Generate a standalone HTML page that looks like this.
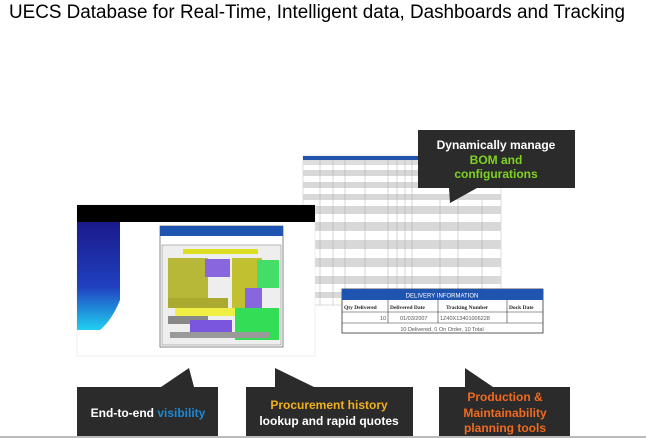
<!DOCTYPE html>
<html><head><meta charset="utf-8"><style>
html,body{margin:0;padding:0;background:#fff;}
svg{display:block;font-family:"Liberation Sans",sans-serif;}
</style></head><body>
<svg width="646" height="438" viewBox="0 0 646 438" xmlns="http://www.w3.org/2000/svg">
<defs>
<linearGradient id="sb" x1="0" y1="0" x2="0" y2="1">
<stop offset="0" stop-color="#1a1a8a"/><stop offset="0.6" stop-color="#2040c0"/><stop offset="1" stop-color="#20d0f0"/></linearGradient>
</defs>
<text x="9" y="18" font-size="19" fill="#000" textLength="616" lengthAdjust="spacingAndGlyphs">UECS Database for Real-Time, Intelligent data, Dashboards and Tracking</text>

<!-- table screenshot -->
<g>
<rect x="303" y="156" width="198" height="149" fill="#fff" stroke="#bbb" stroke-width="0.5"/>
<rect x="303" y="156" width="198" height="4" fill="#2255aa"/>
<rect x="303" y="160" width="198" height="5" fill="#ddd"/>
<g fill="#d8d8d8">
<rect x="303" y="170" width="198" height="6"/><rect x="303" y="182" width="198" height="6"/>
<rect x="303" y="194" width="198" height="6"/><rect x="303" y="206" width="198" height="8"/>
<rect x="303" y="222" width="198" height="9"/><rect x="303" y="240" width="198" height="9"/>
<rect x="303" y="258" width="198" height="9"/><rect x="303" y="276" width="198" height="8"/>
<rect x="303" y="292" width="40" height="6"/>
</g>
<g stroke="#aaa" stroke-width="0.5">
<line x1="320" y1="160" x2="320" y2="305"/><line x1="333" y1="160" x2="333" y2="305"/>
<line x1="345" y1="160" x2="345" y2="289"/><line x1="365" y1="160" x2="365" y2="289"/>
<line x1="388" y1="160" x2="388" y2="289"/><line x1="397" y1="160" x2="397" y2="289"/>
<line x1="405" y1="160" x2="405" y2="289"/><line x1="412" y1="160" x2="412" y2="289"/>
<line x1="440" y1="200" x2="440" y2="289"/><line x1="458" y1="200" x2="458" y2="289"/>
<line x1="482" y1="200" x2="482" y2="289"/>
</g>
</g>

<!-- delivery box -->
<g>
<rect x="342" y="289" width="201" height="44" fill="#fff" stroke="#333" stroke-width="0.8"/>
<rect x="342" y="289" width="201" height="11" fill="#1f55b0"/>
<text x="442" y="297.5" font-size="6" fill="#fff" text-anchor="middle">DELIVERY INFORMATION</text>
<g stroke="#333" stroke-width="0.6" fill="none">
<line x1="342" y1="312" x2="543" y2="312"/><line x1="342" y1="323" x2="543" y2="323"/>
<line x1="388" y1="300" x2="388" y2="323"/><line x1="438" y1="300" x2="438" y2="323"/>
<line x1="507" y1="300" x2="507" y2="323"/>
</g>
<g font-size="5.5" font-weight="bold" fill="#222" font-family="Liberation Serif,serif">
<text x="344" y="309">Qty Delivered</text><text x="390" y="309">Delivered Date</text>
<text x="446" y="309">Tracking Number</text><text x="509" y="309">Dock Date</text></g>
<g font-size="5.5" fill="#555">
<text x="380" y="320">10</text><text x="400" y="320">01/03/2007</text><text x="440" y="320">1Z40X13401006228</text>
<text x="442" y="331" text-anchor="middle">10 Delivered, 0 On Order, 10 Total</text></g>
</g>

<!-- left screenshot -->
<g>
<rect x="77" y="205" width="238" height="151" fill="#fff" stroke="#e4e4e4" stroke-width="0.6"/>
<rect x="77" y="205" width="238" height="17" fill="#000"/>
<path d="M77 222 H120 V300 Q112 320 100 330 H77 Z" fill="url(#sb)"/>
<rect x="160" y="226" width="123" height="121" fill="#fff" stroke="#555" stroke-width="0.7"/>
<rect x="160" y="226" width="123" height="10" fill="#1f55b0"/>
<rect x="162" y="245" width="119" height="100" fill="#eee" stroke="#777" stroke-width="0.5"/>
<rect x="183" y="249" width="75" height="5" fill="#dddd22"/>
<rect x="168" y="258" width="40" height="40" fill="#b8b838"/>
<rect x="205" y="259" width="25" height="18" fill="#8866dd"/>
<rect x="232" y="258" width="30" height="50" fill="#c0c030"/>
<rect x="257" y="260" width="22" height="28" fill="#44dd66"/>
<rect x="245" y="288" width="17" height="20" fill="#8866dd"/>
<rect x="168" y="298" width="60" height="10" fill="#aaaa30"/>
<rect x="175" y="308" width="60" height="8" fill="#eeee44"/>
<rect x="235" y="308" width="44" height="32" fill="#33dd55"/>
<rect x="168" y="316" width="40" height="8" fill="#888"/>
<rect x="190" y="320" width="42" height="12" fill="#7a55dd"/>
<rect x="170" y="332" width="100" height="6" fill="#999"/>
</g>

<!-- callouts -->
<g fill="#2b2b2b">
<path d="M418 130 H575 V188 H477 L450 203 L449 188 H418 Z"/>
<path d="M77 387 H161 L189 368 L194 387 H218 V438 H77 Z"/>
<path d="M246 387 H314 L275 368 V387 Z M246 387 H413 V438 H246 Z"/>
<path d="M439 387 H493 L465 368 V387 Z M439 387 H570 V438 H439 Z"/>
</g>
<g font-size="12" text-anchor="middle" font-weight="bold">
<text x="496" y="149" fill="#fff">Dynamically manage</text>
<text x="496" y="164" fill="#7ed321">BOM and</text>
<text x="496" y="178" fill="#7ed321">configurations</text>
<text x="148" y="417" fill="#fff">End-to-end <tspan fill="#1e88d8">visibility</tspan></text>
<text x="329" y="409" fill="#f0b020">Procurement history</text>
<text x="329" y="425" fill="#fff">lookup and rapid quotes</text>
<text x="505" y="401" fill="#f06a20">Production &amp;</text>
<text x="505" y="417" fill="#f06a20">Maintainability</text>
<text x="505" y="432" fill="#f06a20">planning tools</text>
</g>
<rect x="0" y="436" width="646" height="2" fill="#bbb"/>
</svg>
</body></html>
